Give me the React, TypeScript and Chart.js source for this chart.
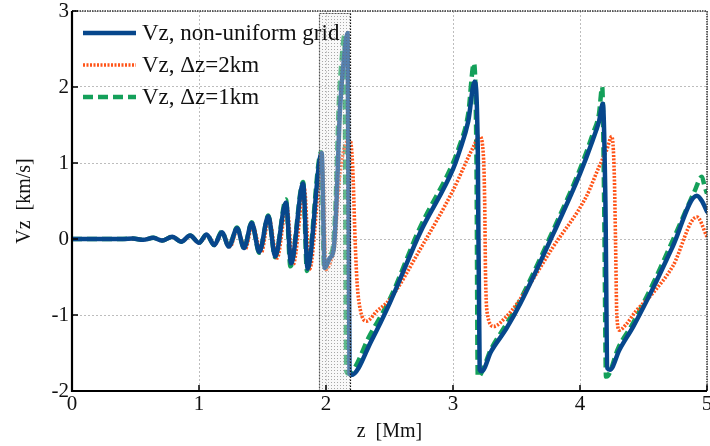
import React, { useEffect, useRef } from "react";
import { Chart, registerables } from "chart.js";

Chart.register(...registerables);

// ---------- data ----------
const zNonUniform = [
  0, 0.40, 0.48, 0.56, 0.64, 0.71, 0.79, 0.86, 0.93, 1.00, 1.06, 1.12, 1.18, 1.235, 1.30, 1.355,
  1.415, 1.475, 1.546, 1.60, 1.685, 1.725, 1.82, 1.855, 1.966, 1.99, 2.03, 2.06, 2.08, 2.11, 2.14,
  2.17, 2.185, 2.20, 2.36, 2.50, 2.74, 3.00, 3.05, 3.12, 3.17, 3.195, 3.21, 3.226, 3.30, 3.42, 3.53,
  3.79, 4.00, 4.10, 4.15, 4.18, 4.20, 4.215, 4.236, 4.31, 4.42, 4.58, 4.73, 4.92, 4.96, 5.0,
];
const vzNonUniform = [
  0, 0, 0.005, -0.01, 0.015, -0.02, 0.03, -0.035, 0.045, -0.05, 0.06, -0.08, 0.09, -0.10, 0.14, -0.12,
  0.21, -0.17, 0.30, -0.23, 0.48, -0.32, 0.73, -0.39, 1.13, -0.38, -0.25, -0.14, 0.38, 1.70, 2.35,
  2.71, -1.77, -1.79, -1.33, -0.85, 0.08, 0.92, 1.15, 1.55, 2.07, 1.20, -1.72, -1.74, -1.48, -1.18, -0.85,
  0.07, 0.86, 1.30, 1.55, 1.78, 0.50, -1.70, -1.72, -1.46, -1.15, -0.63, -0.10, 0.57, 0.50, 0.36,
];

const zDz2 = [
  0, 0.40, 0.48, 0.56, 0.64, 0.71, 0.79, 0.86, 0.93, 1.00, 1.06, 1.125, 1.18, 1.245, 1.30, 1.365,
  1.42, 1.49, 1.55, 1.615, 1.69, 1.74, 1.83, 1.87, 1.97, 2.00, 2.04, 2.07, 2.10, 2.14, 2.19, 2.21,
  2.23, 2.245, 2.27, 2.32, 2.40, 2.50, 2.74, 3.00, 3.16, 3.21, 3.24, 3.25, 3.256, 3.27, 3.32, 3.42,
  3.50, 3.79, 4.05, 4.15, 4.21, 4.25, 4.27, 4.28, 4.29, 4.31, 4.36, 4.44, 4.58, 4.73, 4.92, 5.0,
];
const vzDz2 = [
  0, 0, 0.005, -0.01, 0.015, -0.02, 0.03, -0.03, 0.04, -0.05, 0.05, -0.07, 0.08, -0.10, 0.12, -0.13,
  0.19, -0.18, 0.27, -0.25, 0.44, -0.34, 0.66, -0.40, 1.00, -0.40, -0.28, -0.05, 0.70, 1.17, 1.30, 0.95,
  -0.05, -0.58, -0.93, -1.08, -0.95, -0.80, -0.14, 0.64, 1.21, 1.35, 1.08, 0.43, -0.45, -0.98, -1.15, -1.02,
  -0.86, -0.10, 0.56, 0.95, 1.17, 1.35, 0.85, -0.05, -1.00, -1.20, -1.13, -0.95, -0.70, -0.36, 0.29, 0.03,
];

const zDz1 = [
  0, 0.40, 0.48, 0.56, 0.64, 0.71, 0.79, 0.86, 0.93, 1.00, 1.06, 1.12, 1.18, 1.235, 1.30, 1.355,
  1.415, 1.475, 1.546, 1.60, 1.685, 1.72, 1.82, 1.85, 1.962, 1.985, 2.03, 2.055, 2.075, 2.10, 2.125,
  2.145, 2.16, 2.175, 2.35, 2.50, 2.74, 3.00, 3.05, 3.12, 3.165, 3.185, 3.195, 3.21, 3.30, 3.42, 3.53,
  3.79, 4.00, 4.10, 4.15, 4.175, 4.19, 4.205, 4.22, 4.30, 4.42, 4.58, 4.73, 4.90, 4.96, 4.98, 5.0,
];
const vzDz1 = [
  0, 0, 0.005, -0.01, 0.015, -0.02, 0.03, -0.035, 0.045, -0.05, 0.06, -0.08, 0.10, -0.10, 0.15, -0.12,
  0.22, -0.18, 0.31, -0.24, 0.52, -0.36, 0.75, -0.42, 1.14, -0.40, -0.22, -0.10, 0.45, 1.75, 2.40,
  2.68, -1.74, -1.77, -1.25, -0.80, 0.15, 1.00, 1.22, 1.65, 2.31, 1.00, -1.81, -1.80, -1.45, -1.12, -0.80,
  0.12, 0.92, 1.38, 1.65, 2.00, 0.50, -1.81, -1.80, -1.44, -1.10, -0.57, -0.02, 0.62, 0.82, 0.70, 0.60,
];

const seriesLabels = ["Vz, non-uniform grid", "Vz, \u0394z=2km", "Vz, \u0394z=1km"];
const xTickValues = [0, 1, 2, 3, 4, 5];
const yTickValues = [-2, -1, 0, 1, 2, 3];
const highlightZ = [1.945, 2.195];
const highlightTop = 2.97;
const xTitle = "z  [Mm]";
const yTitle = "Vz  [km/s]";

// ---------- styles ----------
const FONT = "'Liberation Serif', 'Times New Roman', serif";
const BLUE = "#07478c";
const ORANGE = "#ff5418";
const GREEN = "#14a05a";

const toPoints = (xs: number[], ys: number[]) => xs.map((x, i) => ({ x, y: ys[i] }));

const styles = [
  { color: BLUE, width: 4.5, dash: [] as number[] },
  { color: ORANGE, width: 3.6, dash: [2, 1.5] },
  { color: GREEN, width: 4.5, dash: [10, 5] },
];

const framePlugin = {
  id: "frame",
  afterDatasetsDraw(chart: any) {
    const { ctx, chartArea: a, scales } = chart;
    const xs = scales.x;
    const ys = scales.y;
    const x0 = Math.round(xs.getPixelForValue(highlightZ[0]));
    const x1 = Math.round(xs.getPixelForValue(highlightZ[1]));
    const y0 = Math.round(ys.getPixelForValue(highlightTop));
    const y1 = a.bottom;
    const tile = document.createElement("canvas");
    tile.width = 3;
    tile.height = 3;
    const tc = tile.getContext("2d")!;
    tc.fillStyle = "rgba(235,235,235,0.35)";
    tc.fillRect(0, 0, 3, 3);
    tc.fillStyle = "rgba(100,100,100,0.55)";
    tc.fillRect(1, 1, 1, 1);
    const pat = ctx.createPattern(tile, "repeat");
    ctx.save();
    ctx.fillStyle = pat;
    ctx.fillRect(x0, y0, x1 - x0, y1 - y0);
    ctx.lineWidth = 1.2;
    ctx.setLineDash([1.5, 1.5]);
    ctx.strokeStyle = "#555";
    ctx.beginPath();
    ctx.moveTo(x0 + 0.5, y1);
    ctx.lineTo(x0 + 0.5, y0 + 0.5);
    ctx.lineTo(x1 - 0.5, y0 + 0.5);
    ctx.stroke();
    ctx.strokeStyle = "#111";
    ctx.beginPath();
    ctx.moveTo(x1 - 0.5, y0 + 0.5);
    ctx.lineTo(x1 - 0.5, y1);
    ctx.stroke();
    ctx.restore();
  },
  afterDraw(chart: any) {
    const { ctx, chartArea: a, scales } = chart;
    const xs = scales.x;
    const ys = scales.y;
    ctx.save();
    // top & right frame (dotted)
    ctx.strokeStyle = "#333";
    ctx.lineWidth = 1.5;
    ctx.setLineDash([1.5, 1]);
    ctx.beginPath();
    ctx.moveTo(a.left, a.top);
    ctx.lineTo(a.right, a.top);
    ctx.lineTo(a.right, a.bottom);
    ctx.stroke();
    // left & bottom axes (solid)
    ctx.setLineDash([]);
    ctx.strokeStyle = "#000";
    ctx.lineWidth = 2.2;
    ctx.beginPath();
    ctx.moveTo(a.left, a.top);
    ctx.lineTo(a.left, a.bottom);
    ctx.lineTo(a.right, a.bottom);
    ctx.stroke();
    // inward ticks
    ctx.lineWidth = 1.5;
    ctx.beginPath();
    for (const v of xTickValues) {
      const px = xs.getPixelForValue(v);
      ctx.moveTo(px, a.bottom);
      ctx.lineTo(px, a.bottom - 6);
    }
    for (const v of yTickValues) {
      const py = ys.getPixelForValue(v);
      ctx.moveTo(a.left, py);
      ctx.lineTo(a.left + 6, py);
    }
    ctx.stroke();
    // legend
    ctx.font = `23px ${FONT}`;
    ctx.textBaseline = "middle";
    ctx.textAlign = "left";
    const rows = [33, 65, 97];
    seriesLabels.forEach((label, i) => {
      const st = styles[i];
      const yy = a.top + rows[i] - 11;
      ctx.strokeStyle = st.color;
      ctx.lineWidth = st.width;
      ctx.setLineDash(st.dash);
      ctx.beginPath();
      ctx.moveTo(a.left + 11, yy);
      ctx.lineTo(a.left + 64, yy);
      ctx.stroke();
      ctx.setLineDash([]);
      ctx.fillStyle = "#111";
      ctx.fillText(label, a.left + 70, yy + 1);
    });
    ctx.restore();
  },
};

export default function App() {
  const ref = useRef<HTMLCanvasElement | null>(null);

  useEffect(() => {
    if (!ref.current) return;
    const datasets = [
      { label: seriesLabels[0], data: toPoints(zNonUniform, vzNonUniform) },
      { label: seriesLabels[1], data: toPoints(zDz2, vzDz2) },
      { label: seriesLabels[2], data: toPoints(zDz1, vzDz1) },
    ].map((d, i) => ({
      ...d,
      borderColor: styles[i].color,
      backgroundColor: styles[i].color,
      borderWidth: styles[i].width,
      borderDash: styles[i].dash,
      borderCapStyle: i === 0 ? "round" : "butt",
      borderJoinStyle: "round",
      pointRadius: 0,
      fill: false,
      showLine: true,
      cubicInterpolationMode: "monotone",
    }));

    const tickFont = { family: FONT, size: 21 };
    const chart = new Chart(ref.current, {
      type: "scatter",
      data: { datasets } as any,
      options: {
        animation: false,
        responsive: false,
        devicePixelRatio: 1,
        layout: { padding: { top: 11, right: 3, left: 0, bottom: 0 } },
        plugins: { legend: { display: false }, tooltip: { enabled: false } },
        scales: {
          x: {
            type: "linear",
            min: 0,
            max: 5,
            afterBuildTicks: (s: any) => {
              s.ticks = xTickValues.map((v) => ({ value: v }));
            },
            afterFit: (s: any) => {
              s.height = 55;
              s.paddingLeft = 0;
              s.paddingRight = 0;
            },
            ticks: { font: tickFont, color: "#111", padding: 1, maxRotation: 0 },
            grid: { color: "#bdbdbd", lineWidth: 1, drawTicks: false },
            border: { display: false, dash: [2, 2] },
            title: {
              display: true,
              text: xTitle,
              font: { family: FONT, size: 20 },
              color: "#111",
              padding: { top: 0, bottom: 2 },
            },
          },
          y: {
            type: "linear",
            min: -2,
            max: 3,
            afterBuildTicks: (s: any) => {
              s.ticks = yTickValues.map((v) => ({ value: v }));
            },
            afterFit: (s: any) => {
              s.width = 72;
              s.paddingTop = 0;
              s.paddingBottom = 0;
            },
            ticks: { font: tickFont, color: "#111", padding: 3 },
            grid: { color: "#bdbdbd", lineWidth: 1, drawTicks: false },
            border: { display: false, dash: [2, 2] },
            title: {
              display: true,
              text: yTitle,
              font: { family: FONT, size: 20 },
              color: "#111",
              padding: { top: 13, bottom: 0 },
            },
          },
        },
      } as any,
      plugins: [framePlugin],
    });
    return () => chart.destroy();
  }, []);

  return (
    <div style={{ position: "absolute", left: 0, top: 0, width: 710, height: 446, background: "#fff" }}>
      <canvas ref={ref} width={710} height={446} style={{ display: "block" }} />
    </div>
  );
}
